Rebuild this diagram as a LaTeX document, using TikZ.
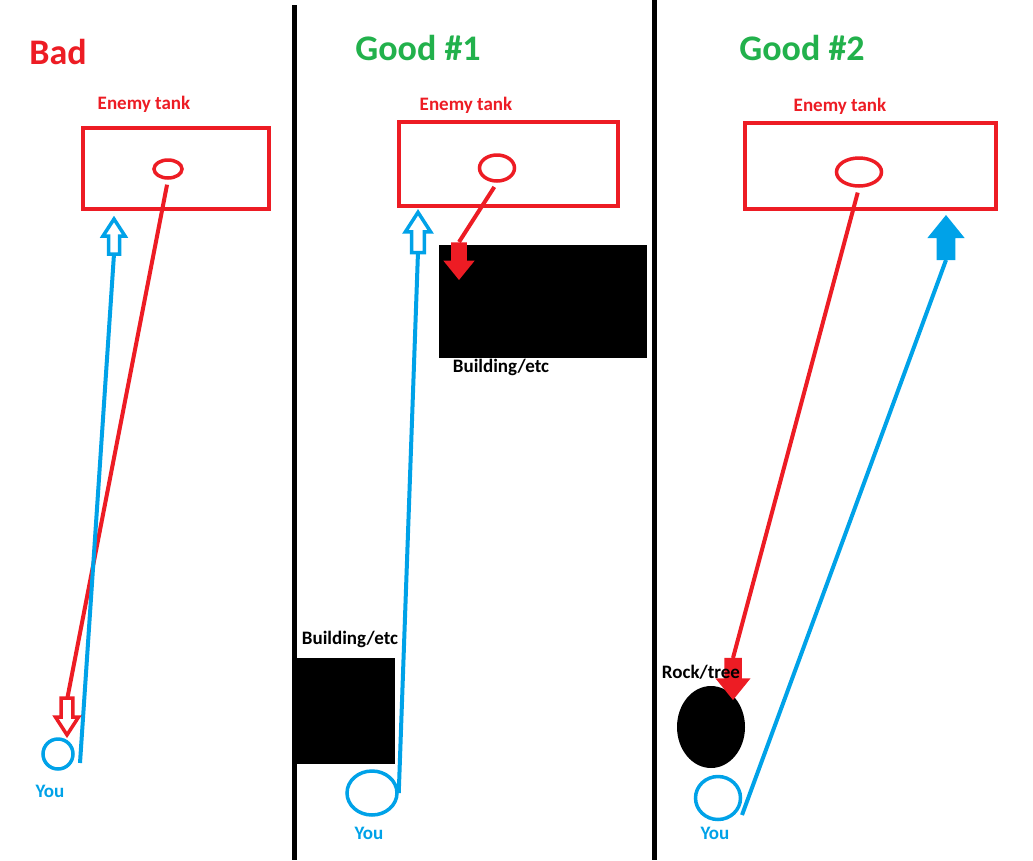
\documentclass[tikz,border=0pt]{standalone}
\usepackage{fontspec}
\setmainfont{Carlito}
\usetikzlibrary{shapes.geometric}
\definecolor{paintred}{HTML}{ED1C24}
\definecolor{paintblue}{HTML}{00A2E8}
\definecolor{paintgreen}{HTML}{22B14C}
\tikzset{
divider/.style={line width=5pt, draw=black},
tank/.style={draw=paintred, line width=4pt, inner sep=0pt},
turret/.style={ellipse, draw=paintred, line width=3.5pt, inner sep=0pt},
you/.style={ellipse, draw=paintblue, line width=3.5pt, inner sep=0pt},
building/.style={fill=black, inner sep=0pt},
rock/.style={ellipse, fill=black, inner sep=0pt},
shot/.style={line width=4pt},
title/.style={font=\fontsize{36}{40}\selectfont\bfseries, inner sep=0pt},
tag/.style={font=\fontsize{19}{22}\selectfont\bfseries, inner sep=0pt},
hollowarrow/.pic={\draw[line width=3.5pt, fill=white, pic actions] (-2,0) -- (-19,11) -- (-19,5.5) -- (-37,5.5) -- (-37,-5.5) -- (-19,-5.5) -- (-19,-11) -- cycle;},
solidarrow/.pic={\fill[pic actions] (0,0) -- (-21,17) -- (-21,8.5) -- (-41,8.5) -- (-41,-8.5) -- (-21,-8.5) -- (-21,-17) -- cycle;},
}

\begin{document}
\begin{tikzpicture}[x=1pt, y=-1pt]
    \useasboundingbox[fill=white] (0,0) rectangle (1033,860);
    \draw[divider] (294,5) -- (294,860);
    \draw[divider] (654,0) -- (654,860);
    % Bad
    \node[title, text=paintred] (badtitle) at (58,52) {Bad};
    \node[tag, text=paintred] (tanklabelA) at (144,104) {Enemy tank};
    \node[tank, minimum width=186pt, minimum height=81pt] (tankA) at (175.5,168.5) {};
    \node[turret, minimum width=28pt, minimum height=18pt] (turretA) at (168,169) {};
    \node[you, minimum width=30pt, minimum height=30pt] (youA) at (58,754) {};
    \node[tag, text=paintblue] (youlabelA) at (50,791) {You};
    \coordinate (hitA) at (67,737);
    \coordinate (tailA) at (67,700);
    \coordinate (aimA) at (114,217);
    \coordinate (rearA) at (114,254);
    \coordinate (gunA) at (80,763);
    \draw[shot, paintred, shorten <=5pt] (turretA.south) -- (tailA);
    \draw[shot, paintblue] (gunA) -- (rearA);
    \pic[draw=paintred, rotate=-90, scale=1.05] at (hitA) {hollowarrow};
    \pic[draw=paintblue, rotate=90] at (aimA) {hollowarrow};
    % Good #1
    \node[title, text=paintgreen] (goodtitleB) at (418,48) {Good \#1};
    \node[tag, text=paintred] (tanklabelB) at (466,105) {Enemy tank};
    \node[tank, minimum width=219pt, minimum height=84pt] (tankB) at (508.5,164) {};
    \node[turret, minimum width=35pt, minimum height=26pt] (turretB) at (497,168) {};
    \node[building, minimum width=101pt, minimum height=106pt] (buildingB) at (344.5,711) {};
    \node[building, minimum width=208pt, minimum height=113pt] (houseB) at (543,301.5) {};
    \node[tag] (buildinglabelB) at (350,639) {Building/etc};
    \node[tag] (houselabelB) at (501,367) {Building/etc};
    \node[you, minimum width=50pt, minimum height=44pt] (youB) at (372,793) {};
    \node[tag, text=paintblue] (youlabelB) at (369,833) {You};
    \coordinate (hitB) at (459,280);
    \coordinate (tailB) at (459,242);
    \coordinate (aimB) at (418,210);
    \coordinate (rearB) at (418,252);
    \draw[shot, paintred, shorten <=5pt] (turretB.south) -- (tailB);
    \draw[shot, paintblue] (youB.east) -- (rearB);
    \pic[fill=paintred, rotate=-90, scale=0.92] at (hitB) {solidarrow};
    \pic[draw=paintblue, rotate=90, scale=1.15] at (aimB) {hollowarrow};
    % Good #2
    \node[title, text=paintgreen] (goodtitleC) at (802,48) {Good \#2};
    \node[tag, text=paintred] (tanklabelC) at (840,106) {Enemy tank};
    \node[tank, minimum width=251pt, minimum height=86pt] (tankC) at (870.5,165.5) {};
    \node[turret, minimum width=45pt, minimum height=28pt] (turretC) at (859,172) {};
    \node[rock, minimum width=68pt, minimum height=82pt] (rockC) at (711,727) {};
    \node[you, minimum width=45pt, minimum height=43pt] (youC) at (718,798) {};
    \node[tag, text=paintblue] (youlabelC) at (715,833) {You};
    \coordinate (hitC) at (733,700);
    \coordinate (tailC) at (733,658);
    \coordinate (aimC) at (946,215);
    \coordinate (rearC) at (946,260);
    \coordinate (gunC) at (742,815);
    \draw[shot, paintred, shorten <=5pt] (turretC.south) -- (tailC);
    \draw[shot, paintblue] (gunC) -- (rearC);
    \pic[fill=paintred, rotate=-90, scale=1.03] at (hitC) {solidarrow};
    \pic[fill=paintblue, rotate=90, scale=1.1] at (aimC) {solidarrow};
    \node[tag] (rocklabelC) at (701,672) {Rock/tree};
\end{tikzpicture}
\end{document}
